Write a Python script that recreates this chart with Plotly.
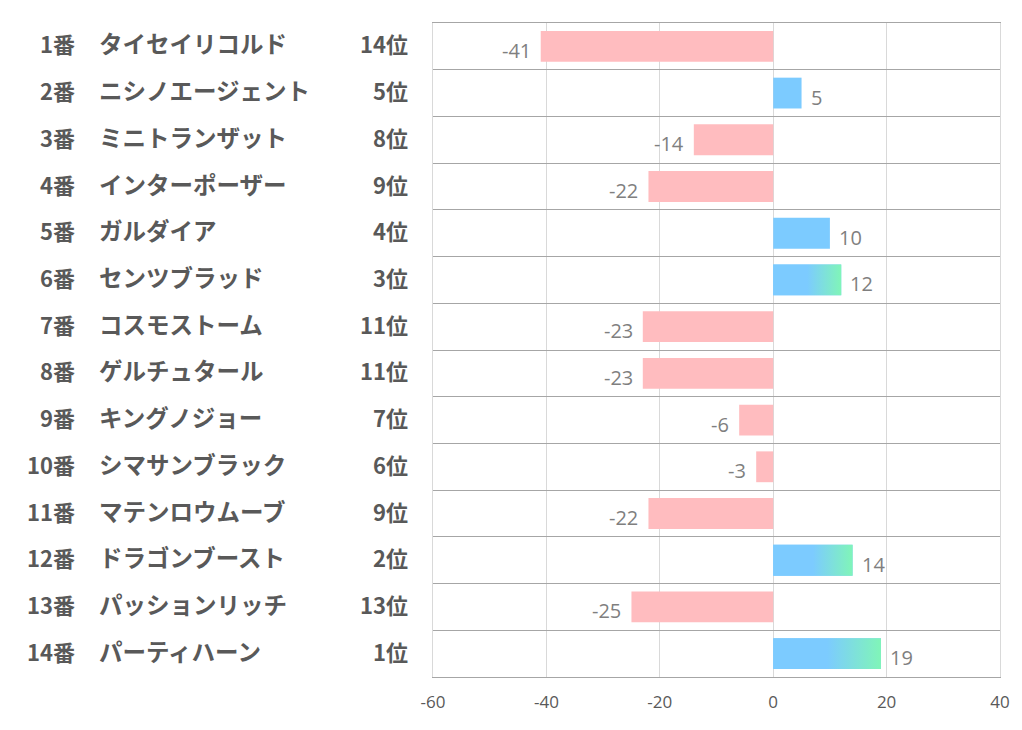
import plotly.graph_objects as go

numbers = ["1番", "2番", "3番", "4番", "5番", "6番", "7番", "8番", "9番", "10番", "11番", "12番", "13番", "14番"]
names = ["タイセイリコルド", "ニシノエージェント", "ミニトランザット", "インターポーザー", "ガルダイア",
         "センツブラッド", "コスモストーム", "ゲルチュタール", "キングノジョー", "シマサンブラック",
         "マテンロウムーブ", "ドラゴンブースト", "パッションリッチ", "パーティハーン"]
ranks = [14, 5, 8, 9, 4, 3, 11, 11, 7, 6, 9, 2, 13, 1]
values = [-41, 5, -14, -22, 10, 12, -23, -23, -6, -3, -22, 14, -25, 19]
x_ticks = [-60, -40, -20, 0, 20, 40]
x_tick_labels = ["-60", "-40", "-20", "0", "20", "40"]

PINK = "#ffbcbf"
BLUE = "#7ccbff"
GREEN = "#80f5b8"
BAR_W = 0.66

L, R, T, B = 433, 18, 23, 53
W, H = 1022, 730
PW = W - L - R

def px(x):
    return (x - L) / PW

pos = [i + 0.5 for i in range(len(values))]
colors = [PINK if v < 0 else BLUE for v in values]

fig = go.Figure()
fig.add_trace(go.Bar(
    x=values, y=pos, orientation="h", width=BAR_W,
    marker=dict(color=colors, line=dict(width=0)),
    hoverinfo="skip", showlegend=False,
))

# gradient overlay for top-3 ranked horses
for p, v, r in zip(pos, values, ranks):
    if r <= 3 and v > 0:
        fig.add_trace(go.Scatter(
            x=[0, v, v, 0, 0],
            y=[p - BAR_W / 2, p - BAR_W / 2, p + BAR_W / 2, p + BAR_W / 2, p - BAR_W / 2],
            mode="lines", line=dict(width=0), fill="toself",
            fillgradient=dict(type="horizontal",
                              colorscale=[[0, BLUE], [0.5, BLUE], [1, GREEN]]),
            hoverinfo="skip", showlegend=False,
        ))

annotations = []
for p, v in zip(pos, values):
    annotations.append(dict(
        x=v, y=p, xref="x", yref="y", text=str(v), showarrow=False,
        xanchor="right" if v < 0 else "left", xshift=-8 if v < 0 else 7, yshift=-4,
        font=dict(family="Open Sans", size=20, color="#7f7f7f"),
    ))

num_font = dict(family="Noto Sans CJK JP", size=22, color="#595959", weight="bold")
name_font = dict(family="Noto Sans CJK JP", size=23.5, color="#595959", weight="bold")
for p, n, nm, r in zip(pos, numbers, names, ranks):
    annotations.append(dict(x=px(74), y=p, xref="paper", yref="y", text=n, showarrow=False,
                            xanchor="right", yshift=3, font=num_font))
    annotations.append(dict(x=px(95), y=p, xref="paper", yref="y", text=nm, showarrow=False,
                            xanchor="left", yshift=3, font=name_font))
    annotations.append(dict(x=px(410), y=p, xref="paper", yref="y", text=f"{r}位", showarrow=False,
                            xanchor="right", yshift=3, font=num_font))

fig.update_layout(
    width=W, height=H,
    margin=dict(l=L, r=R, t=T, b=B),
    paper_bgcolor="white", plot_bgcolor="white",
    annotations=annotations,
    xaxis=dict(range=[-60, 40], tickvals=x_ticks, ticktext=x_tick_labels,
               showgrid=True, gridcolor="#d9d9d9", gridwidth=1,
               zeroline=False, showline=True, mirror=True, linecolor="#a6a6a6", linewidth=1,
               ticks="", ticklabelstandoff=10,
               tickfont=dict(family="Open Sans", size=17, color="#595959"), fixedrange=True),
    yaxis=dict(range=[14, 0], tick0=0, dtick=1, showgrid=True, gridcolor="#a6a6a6", gridwidth=1,
               showticklabels=False, zeroline=False, showline=True, mirror=True,
               linecolor="#d9d9d9", linewidth=1, ticks="", fixedrange=True),
    font=dict(family="Open Sans"),
)

fig.write_html("out.html", config={"displayModeBar": False},
               post_script="document.body.style.margin='0px';")
